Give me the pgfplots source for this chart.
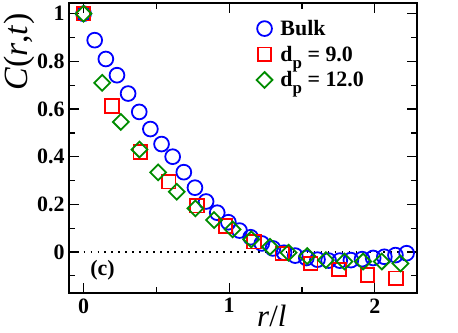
\documentclass[border=0pt]{standalone}
\usepackage{pgfplots}
\pgfplotsset{compat=1.18}
\usepackage{fontspec}
\setmainfont{Liberation Serif}
\definecolor{myblue}{rgb}{0,0,1}
\definecolor{myred}{rgb}{1,0,0}
\definecolor{mygreen}{rgb}{0,0.55,0}
\newcommand{\sub}[1]{\raisebox{-7bp}{\fontsize{17}{17}\selectfont #1}}
\begin{document}
\begin{tikzpicture}
\useasboundingbox (-69bp,-40bp) rectangle (389bp,293bp);
\begin{axis}[
  scale only axis,
  width=348bp, height=290bp,
  xmin=-0.1, xmax=2.29,
  ymin=-0.172, ymax=1.045,
  axis line style={line width=1.8pt},
  every tick/.style={black, line width=1.3pt},
  major tick length=10bp,
  minor tick length=6bp,
  tick align=inside,
  xtick={0,1,2}, xticklabels={0,1,2},
  minor xtick={0.5,1.5},
  ytick={0,0.2,0.4,0.6,0.8,1}, yticklabels={0,0.2,0.4,0.6,0.8,1},
  minor ytick={-0.1,0.1,0.3,0.5,0.7,0.9},
  tick label style={font=\bfseries\fontsize{22}{22}\selectfont},
  xticklabel style={yshift=-2bp},
  yticklabel style={xshift=-1bp},
  xlabel={\textit{r}/\textit{l}},
  xlabel style={font=\fontsize{31}{31}\selectfont, at={(axis description cs:0.583,-0.078)}, anchor=center},
  ylabel={\textit{C}(\textit{r},\textit{t})},
  ylabel style={font=\fontsize{34}{34}\selectfont, at={(axis description cs:-0.142,0.83)}, anchor=center, rotate=0},
  legend style={draw=none, fill=none, at={(axis description cs:0.53,0.955)}, anchor=north west,
    font=\bfseries\fontsize{22}{22}\selectfont, row sep=5bp},
  legend cell align=left,
]
\addplot[black, dash pattern=on 1.6pt off 5.4pt, line width=1.6pt, forget plot] coordinates {(0,0) (2.2,0)};
\addplot[only marks, mark=o, mark size=7.4bp, color=myblue, mark options={line width=1.8pt}] coordinates {
(0,1.0) (0.0765,0.889) (0.153,0.81) (0.2295,0.742) (0.306,0.665) (0.3825,0.588)
(0.459,0.516) (0.5355,0.453) (0.612,0.40) (0.6885,0.335) (0.765,0.27) (0.8415,0.212)
(0.918,0.165) (0.9945,0.125) (1.071,0.09) (1.1475,0.062) (1.224,0.036) (1.3005,0.015)
(1.377,-0.003) (1.4535,-0.015) (1.53,-0.025) (1.6065,-0.032) (1.683,-0.036) (1.7595,-0.036)
(1.836,-0.034) (1.9125,-0.03) (1.989,-0.025) (2.0655,-0.02) (2.142,-0.013) (2.2185,-0.005)
};
\addlegendentry{\hspace*{6bp}Bulk}
\addplot[only marks, mark=square, mark size=6.8bp, color=myred, mark options={line width=1.8pt}] coordinates {
(0,1.0) (0.195,0.612) (0.39,0.42) (0.585,0.295) (0.78,0.194) (0.975,0.109)
(1.17,0.043) (1.365,-0.006) (1.56,-0.048) (1.755,-0.073) (1.95,-0.096) (2.145,-0.11)
};
\addlegendentry{\hspace*{6bp}d\sub{p} = 9.0}
\addplot[only marks, mark=square, mark size=5.6bp, color=mygreen, mark options={line width=1.8pt, rotate=45}] coordinates {
(0,1.0) (0.128,0.71) (0.256,0.546) (0.384,0.43) (0.512,0.334) (0.64,0.253)
(0.768,0.183) (0.896,0.134) (1.024,0.095) (1.152,0.053) (1.28,0.022) (1.408,-0.003)
(1.536,-0.017) (1.664,-0.034) (1.792,-0.04) (1.92,-0.04) (2.048,-0.04) (2.176,-0.048)
};
\addlegendentry{\hspace*{6bp}d\sub{p} = 12.0}
\node[font=\bfseries\fontsize{22}{22}\selectfont] at (axis cs:0.13,-0.075) {(c)};
\end{axis}
\end{tikzpicture}
\end{document}
